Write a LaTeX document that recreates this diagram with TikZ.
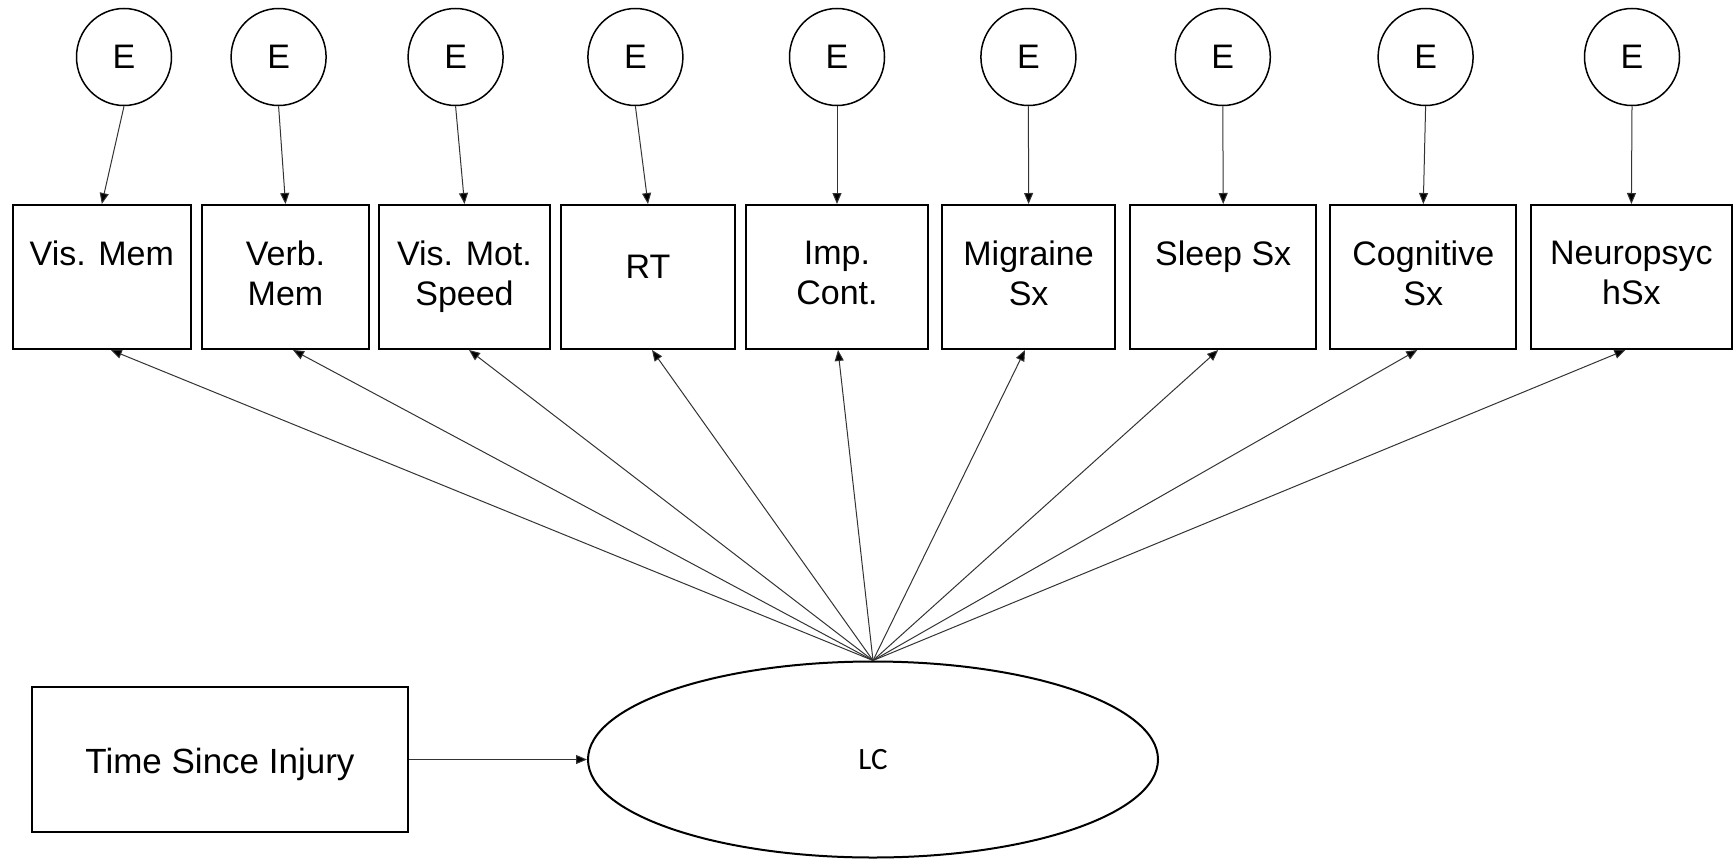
\documentclass[tikz,border=0pt]{standalone}
\usepackage{fontspec}
\setmainfont{Liberation Sans}
\newfontfamily\lcfont{Carlito}
\usetikzlibrary{arrows.meta,shapes.geometric}
\begin{document}
\begin{tikzpicture}[x=1pt,y=-1pt,
  obs/.style={draw, line width=2pt, minimum height=144pt, inner sep=0pt},
  err/.style={draw, ellipse, line width=1.5pt, minimum width=95pt, minimum height=97pt, inner sep=0pt, font=\fontsize{34}{40}\selectfont},
  lbl/.style={anchor=north, align=center, inner sep=0pt, font=\fontsize{34}{40}\selectfont},
  arr/.style={line width=1pt, draw=black!80, -{Triangle[length=11pt,width=9pt,fill=black]}}]
\useasboundingbox (0,0) rectangle (1734,859);
% error terms
\node[err] (e1) at (124,57) {E};
\node[err] (e2) at (278.6,57) {E};
\node[err] (e3) at (455.6,57) {E};
\node[err] (e4) at (635.4,57) {E};
\node[err] (e5) at (837,57) {E};
\node[err] (e6) at (1028.4,57) {E};
\node[err] (e7) at (1222.8,57) {E};
\node[err] (e8) at (1425.6,57) {E};
\node[err] (e9) at (1632,57) {E};
% observed boxes
\node[obs, minimum width=177.6pt] (b1) at (101.8,277) {};
\node[obs, minimum width=167.6pt] (b2) at (285.5,277) {};
\node[obs, minimum width=171pt] (b3) at (464.5,277) {};
\node[obs, minimum width=174.5pt] (b4) at (648,277) {};
\node[obs, minimum width=181.4pt] (b5) at (837,277) {};
\node[obs, minimum width=173.4pt] (b6) at (1028.6,277) {};
\node[obs, minimum width=186pt] (b7) at (1223.2,277) {};
\node[obs, minimum width=186pt] (b8) at (1423.3,277) {};
\node[obs, minimum width=201.7pt] (b9) at (1631.4,277) {};
% box texts
\node[lbl] (t1) at (101.8,241) {Vis. Mem};
\node[lbl] (t2) at (285.5,241) {Verb.\\Mem};
\node[lbl] (t3) at (464.5,241) {Vis. Mot.\\Speed};
\node[lbl] (t4) at (648,255) {RT};
\node[lbl] (t5) at (837,241) {Imp.\\Cont.};
\node[lbl] (t6) at (1028.6,241) {Migraine\\Sx};
\node[lbl] (t7) at (1223.2,241) {Sleep Sx};
\node[lbl] (t8) at (1423.3,241) {Cognitive\\Sx};
\node[lbl] (t9) at (1631.4,241) {Neuropsyc\\hSx};
% latent and covariate
\node[draw, ellipse, line width=2pt, minimum width=570pt, minimum height=196pt, inner sep=0pt, font=\lcfont\fontsize{31}{36}\selectfont] (lc) at (873,759.5) {LC};
\node[obs, minimum width=376pt, minimum height=145pt, text height=27pt, text depth=0pt, font=\fontsize{35}{40}\selectfont] (tsi) at (220,759.5) {Time Since Injury};
% connectors
\foreach \i in {1,...,9} \draw[arr] (e\i.south) -- (b\i.north);
\draw[arr] (lc.north) -- ([xshift=9pt]b1.south);
\draw[arr] (lc.north) -- ([xshift=7.5pt]b2.south);
\draw[arr] (lc.north) -- ([xshift=4.5pt]b3.south);
\draw[arr] (lc.north) -- ([xshift=4pt]b4.south);
\draw[arr] (lc.north) -- ([xshift=1pt]b5.south);
\draw[arr] (lc.north) -- ([xshift=-3.6pt]b6.south);
\draw[arr] (lc.north) -- ([xshift=-5pt]b7.south);
\draw[arr] (lc.north) -- ([xshift=-6pt]b8.south);
\draw[arr] (lc.north) -- ([xshift=-6pt]b9.south);
\draw[arr] (tsi) -- (lc);
\end{tikzpicture}
\end{document}
